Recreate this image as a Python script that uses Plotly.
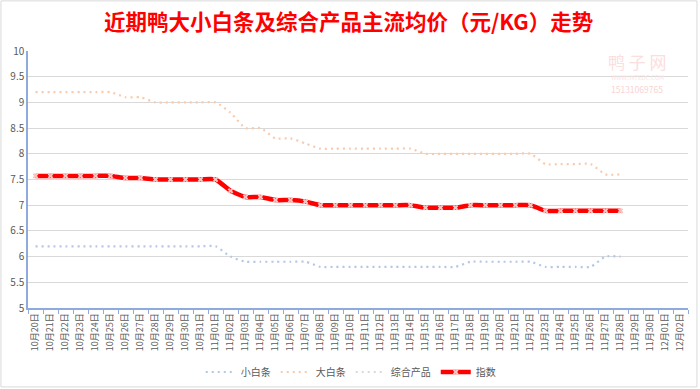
import plotly.graph_objects as go

dates = ["10月20日","10月21日","10月22日","10月23日","10月24日","10月25日","10月26日","10月27日","10月28日","10月29日",
         "10月30日","10月31日","11月01日","11月02日","11月03日","11月04日","11月05日","11月06日","11月07日","11月08日",
         "11月09日","11月10日","11月11日","11月12日","11月13日","11月14日","11月15日","11月16日","11月17日","11月18日",
         "11月19日","11月20日","11月21日","11月22日","11月23日","11月24日","11月25日","11月26日","11月27日","11月28日",
         "11月29日","11月30日","12月01日","12月02日"]

small_white = [6.2,6.2,6.2,6.2,6.2,6.2,6.2,6.2,6.2,6.2,6.2,6.2,6.2,6.0,5.9,5.9,5.9,5.9,5.9,5.8,
               5.8,5.8,5.8,5.8,5.8,5.8,5.8,5.8,5.8,5.9,5.9,5.9,5.9,5.9,5.8,5.8,5.8,5.8,6.0,6.0,
               None,None,None,None]
big_white = [9.2,9.2,9.2,9.2,9.2,9.2,9.1,9.1,9.0,9.0,9.0,9.0,9.0,8.8,8.5,8.5,8.3,8.3,8.2,8.1,
             8.1,8.1,8.1,8.1,8.1,8.1,8.0,8.0,8.0,8.0,8.0,8.0,8.0,8.0,7.8,7.8,7.8,7.8,7.6,7.6,
             None,None,None,None]
index_vals = [7.57,7.57,7.57,7.57,7.57,7.57,7.53,7.53,7.5,7.5,7.5,7.5,7.5,7.28,7.16,7.16,7.1,7.1,7.07,7.0,
              7.0,7.0,7.0,7.0,7.0,7.0,6.95,6.95,6.95,7.0,7.0,7.0,7.0,7.0,6.89,6.89,6.89,6.89,6.89,6.89,
              None,None,None,None]
composite = list(index_vals)

FONT = "Noto Sans CJK SC, Noto Sans, sans-serif"
DOT = "2px,4px"

fig = go.Figure()
fig.add_trace(go.Scatter(x=dates, y=small_white, name="小白条", mode="lines",
                         line=dict(color="#b4c7e7", width=2.2, dash=DOT, shape="spline", smoothing=0.6)))
fig.add_trace(go.Scatter(x=dates, y=big_white, name="大白条", mode="lines",
                         line=dict(color="#f8cbad", width=2.2, dash=DOT, shape="spline", smoothing=0.6)))
fig.add_trace(go.Scatter(x=dates, y=composite, name="综合产品", mode="lines",
                         line=dict(color="#d9d9d9", width=2.2, dash=DOT, shape="spline", smoothing=0.6)))
fig.add_trace(go.Scatter(x=dates, y=index_vals, name="指数", mode="lines+markers",
                         line=dict(color="#ff0000", width=4.5, shape="spline", smoothing=0.6),
                         marker=dict(symbol="x", size=5, color="#f7c4c4", line=dict(width=0))))

fig.update_layout(
    width=700, height=389,
    margin=dict(l=28, r=12, t=51, b=81, autoexpand=False),
    paper_bgcolor="white", plot_bgcolor="white",
    font=dict(family=FONT, color="#595959"),
    title=dict(text="<b>近期鸭大小白条及综合产品主流均价（元/KG）走势</b>", x=0.498, xanchor="center",
               y=1 - 22.5 / 389, yanchor="middle", font=dict(size=21.5, color="#ff0000", family=FONT)),
    showlegend=True,
    legend=dict(orientation="h", x=0.489, xanchor="center", y=-0.249, yanchor="middle",
                font=dict(size=10, color="#595959"), itemwidth=30, tracegroupgap=0),
)
fig.update_xaxes(type="category", range=[-0.5, 43.5], tickangle=-90, tickson="boundaries",
                 ticks="outside", ticklen=4, tickcolor="#8faadc", showline=True, linecolor="#8faadc",
                 linewidth=1.5, showgrid=False, tickfont=dict(size=9, color="#595959"), automargin=False)
fig.update_yaxes(range=[5, 10], dtick=0.5, showline=True, linecolor="#8faadc", linewidth=1.5,
                 showgrid=True, gridcolor="#d9d9d9", gridwidth=1, zeroline=False,
                 tickfont=dict(size=10, color="#595959"), automargin=False)

# watermark (plot area spans y 51..308)
fig.add_annotation(text="鸭 子 网", xref="paper", yref="paper", x=0.923, y=(308 - 62) / 257, showarrow=False,
                   font=dict(size=17, color="#fbdede", family=FONT), xanchor="center", yanchor="middle")
fig.add_annotation(text="WWW.INTEDC.COM", xref="paper", yref="paper", x=0.923, y=(308 - 78) / 257, showarrow=False,
                   font=dict(size=6, color="#fbe4e4", family=FONT), xanchor="center", yanchor="middle")
fig.add_annotation(text="15131069765", xref="paper", yref="paper", x=0.923, y=(308 - 88.5) / 257, showarrow=False,
                   font=dict(size=8.5, color="#f9d3d3", family=FONT), xanchor="center", yanchor="middle")
# chart border
fig.add_shape(type="rect", xref="paper", yref="paper", x0=-0.041, x1=1.0136, y0=-0.307, y1=1.195,
              line=dict(color="#d9d9d9", width=1), layer="below")

fig.write_html("out.html", config={"displayModeBar": False},
               post_script="document.body.style.margin='0';")
